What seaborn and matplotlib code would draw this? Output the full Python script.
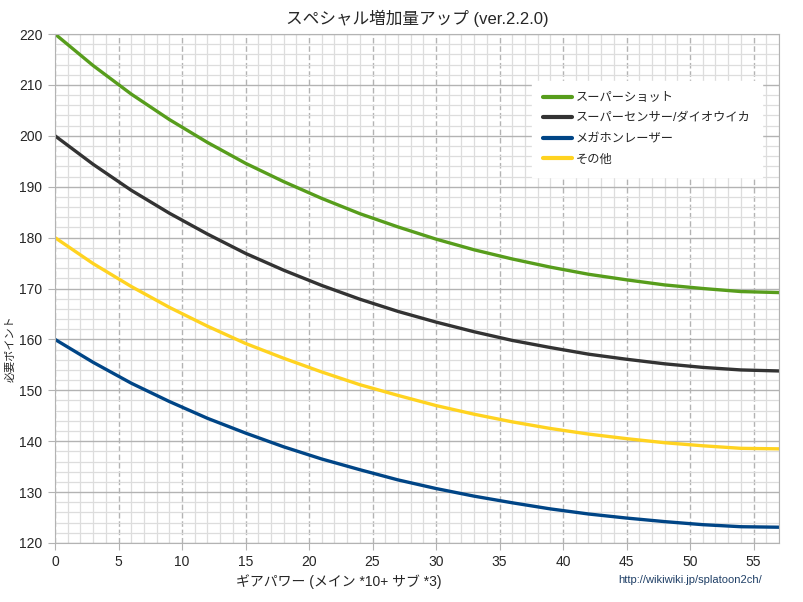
import matplotlib
matplotlib.use("Agg")
import matplotlib.pyplot as plt
from matplotlib.ticker import MultipleLocator
import pandas as pd
import seaborn as sns

gear_power = [0, 3, 6, 9, 12, 15, 18, 21, 24, 27, 30, 33, 36, 39, 42, 45, 48, 51, 54, 57]

super_shot = [220, 213.8, 208.2, 203.2, 198.7, 194.6, 191.0, 187.7, 184.7, 182.1,
              179.7, 177.6, 175.8, 174.2, 172.8, 171.7, 170.7, 170.0, 169.4, 169.2]
sensor_inkstorm = [200, 194.4, 189.3, 184.8, 180.7, 176.9, 173.6, 170.6, 167.9, 165.5,
                   163.4, 161.5, 159.8, 158.4, 157.1, 156.1, 155.2, 154.5, 154.0, 153.8]
laser = [160, 155.5, 151.4, 147.8, 144.5, 141.6, 138.9, 136.5, 134.4, 132.4,
         130.7, 129.2, 127.9, 126.7, 125.7, 124.9, 124.2, 123.6, 123.2, 123.1]
others = [180, 174.9, 170.4, 166.3, 162.6, 159.2, 156.3, 153.6, 151.1, 149.0,
          147.0, 145.3, 143.8, 142.5, 141.4, 140.5, 139.7, 139.1, 138.6, 138.5]

series_names = ['スーパーショット', 'スーパーセンサー/ダイオウイカ', 'メガホンレーザー', 'その他']
series_values = [super_shot, sensor_inkstorm, laser, others]
colors = ['#579d1c', '#333333', '#004586', '#ffd320']

sns.set_style('white')
plt.rcParams['font.family'] = ['Liberation Sans', 'Noto Sans CJK JP', 'DejaVu Sans']

rows = []
for name, values in zip(series_names, series_values):
  for x, y in zip(gear_power, values):
    rows.append({'ap': x, 'points': y, 'series': name})
df = pd.DataFrame(rows)

fig = plt.figure(figsize=(8.04, 6.02), dpi=100)
ax = fig.add_axes([55 / 804, 1 - 543 / 602, 724 / 804, 509 / 602])

sns.lineplot(data=df, x='ap', y='points', hue='series', hue_order=series_names,
             palette=dict(zip(series_names, colors)), linewidth=2.4, ax=ax)

ax.set_xlim(0, 57)
ax.set_ylim(120, 220)
ax.xaxis.set_major_locator(MultipleLocator(5))
ax.xaxis.set_minor_locator(MultipleLocator(1))
ax.yaxis.set_major_locator(MultipleLocator(10))
ax.yaxis.set_minor_locator(MultipleLocator(2))
ax.grid(which='minor', color='#dddddd', linewidth=0.9)
ax.grid(which='major', axis='y', color='#b3b3b3', linewidth=1.0)
ax.grid(which='major', axis='x', color='#b3b3b3', linewidth=1.0, linestyle=(0, (4, 2)))
ax.set_axisbelow(True)
for spine in ax.spines.values():
  spine.set_color('#b3b3b3')
ax.tick_params(which='major', direction='out', length=5, color='#b3b3b3',
               labelsize=10, pad=4, left=True, bottom=True)
ax.tick_params(which='minor', length=0)

ax.set_xlabel('')
ax.set_ylabel('')
ax.set_title('スペシャル増加量アップ (ver.2.2.0)', fontsize=12, pad=7)
fig.text(10 / 804, 1 - 349 / 602, '必要ポイント', rotation=90, ha='center', va='center', fontsize=8)
fig.text(339 / 804, 1 - 582 / 602, 'ギアパワー (メイン *10+ サブ *3)', ha='center', va='center', fontsize=10)
fig.text(690 / 804, 1 - 580 / 602, 'http://wikiwiki.jp/splatoon2ch/', ha='center', va='center',
         fontsize=8, color='#1f3f66')

leg = ax.legend(loc='upper left', bbox_to_anchor=(477 / 724, 1 - 47 / 509), frameon=True,
                fontsize=8.8, handlelength=2.4, handletextpad=0.3, labelspacing=0.7,
                borderpad=0.9, borderaxespad=0, fancybox=False)
leg.get_frame().set_edgecolor('white')
leg.get_frame().set_facecolor('white')
leg.get_frame().set_alpha(1.0)
for line in leg.get_lines():
  line.set_linewidth(3)

fig.savefig('out.png', dpi=100)
